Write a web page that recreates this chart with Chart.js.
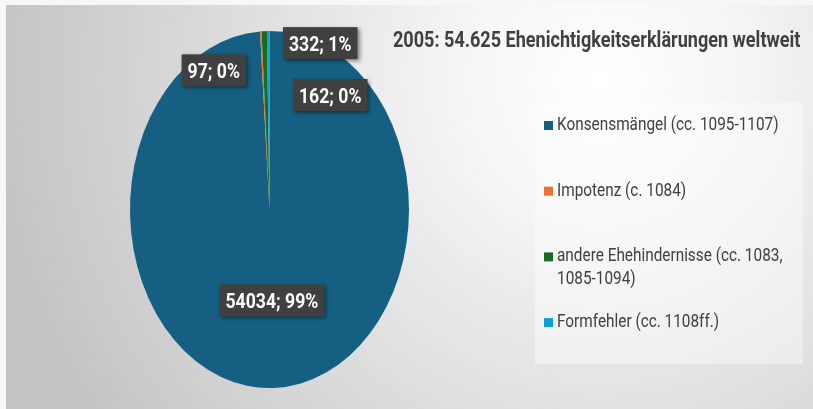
<!DOCTYPE html>
<html>
<head>
<meta charset="utf-8">
<script src="https://cdn.jsdelivr.net/npm/chart.js@4"></script>
<style>
  html, body { margin: 0; padding: 0; background: #ffffff; }
  #wrap { width: 813px; height: 409px; position: relative; }
</style>
</head>
<body>
<div id="wrap"><canvas id="c" width="813" height="409"></canvas></div>
<script>
// ---- data ----
const titleText = '2005: 54.625 Ehenichtigkeitserklärungen weltweit';
const categories = [
  'Konsensmängel (cc. 1095-1107)',
  'Impotenz (c. 1084)',
  'andere Ehehindernisse (cc. 1083, 1085-1094)',
  'Formfehler (cc. 1108ff.)'
];
const values = [54034, 97, 332, 162];
const colors = ['#156082', '#E97132', '#196B24', '#0F9ED5'];

// ---- style / layout ----
const FONT = 'Roboto, "Liberation Sans", sans-serif';
const NARROW = 0.84;                    // horizontal condensing of the text (narrow face look)
const ellipseK = 178.5 / 139.5;         // vertical stretch of the pie
const labelOffsets = [null, [-47, 39], [56, 12], [62, 64]]; // outside labels, relative to slice edge
const innerLabelR = 0.51;

const total = values.reduce((a, b) => a + b, 0);

function narrowWidth(ctx, text) { return ctx.measureText(text).width * NARROW; }
function narrowText(ctx, text, x, y, align) {
  const w = narrowWidth(ctx, text);
  let left = x;
  if (align === 'center') left = x - w / 2;
  ctx.save();
  ctx.translate(left, y);
  ctx.scale(NARROW, 1);
  ctx.textAlign = 'left';
  ctx.fillText(text, 0, 0);
  ctx.restore();
}

const bgPlugin = {
  id: 'bg',
  beforeDraw(chart) {
    const ctx = chart.ctx;
    ctx.save();
    ctx.fillStyle = '#f7f7f7';
    ctx.fillRect(0, 0, chart.width, chart.height);
    const g = ctx.createRadialGradient(600, 80, 0, 600, 80, 620);
    g.addColorStop(0, '#ffffff');
    g.addColorStop(0.2, '#f7f7f7');
    g.addColorStop(0.55, '#e0e0e0');
    g.addColorStop(1, '#c3c3c3');
    ctx.fillStyle = g;
    ctx.fillRect(6, 5, chart.width - 6, chart.height - 5);
    // legend box
    ctx.fillStyle = 'rgba(255,255,255,0.4)';
    ctx.fillRect(535, 103, 268, 261);
    ctx.restore();
  }
};

const ellipsePlugin = {
  id: 'ellipse',
  beforeDatasetsDraw(chart) {
    const a = chart.getDatasetMeta(0).data[0];
    const ctx = chart.ctx;
    ctx.save();
    ctx.translate(a.x, a.y);
    ctx.scale(1, ellipseK);
    ctx.translate(-a.x, -a.y);
  },
  afterDatasetsDraw(chart) {
    chart.ctx.restore();
  }
};

function drawBox(ctx, text, cx, cy) {
  ctx.font = 'bold 21px ' + FONT;
  const w = narrowWidth(ctx, text);
  const bw = w + 12, bh = 32;
  ctx.save();
  ctx.shadowColor = 'rgba(0,0,0,0.45)';
  ctx.shadowBlur = 4;
  ctx.shadowOffsetX = 2;
  ctx.shadowOffsetY = 2;
  ctx.fillStyle = '#404040';
  ctx.fillRect(cx - bw / 2, cy - bh / 2, bw, bh);
  ctx.restore();
  ctx.fillStyle = '#ffffff';
  ctx.textBaseline = 'alphabetic';
  narrowText(ctx, text, cx, cy + 7.5, 'center');
}

const labelPlugin = {
  id: 'labels',
  afterDraw(chart) {
    const ctx = chart.ctx;
    const arcs = chart.getDatasetMeta(0).data;
    ctx.save();
    arcs.forEach((a, i) => {
      const mid = (a.startAngle + a.endAngle) / 2;
      const pct = Math.round(values[i] / total * 100);
      const text = values[i] + '; ' + pct + '%';
      let x, y;
      if (!labelOffsets[i]) {
        x = a.x + Math.cos(mid) * a.outerRadius * innerLabelR;
        y = a.y + Math.sin(mid) * a.outerRadius * innerLabelR * ellipseK;
      } else {
        x = a.x + Math.cos(mid) * a.outerRadius + labelOffsets[i][0];
        y = a.y + Math.sin(mid) * a.outerRadius * ellipseK + labelOffsets[i][1];
      }
      drawBox(ctx, text, x, y);
    });

    // title
    ctx.fillStyle = '#404040';
    ctx.font = 'bold 21.5px ' + FONT;
    ctx.textBaseline = 'alphabetic';
    narrowText(ctx, titleText, 393, 47, 'left');

    // legend
    ctx.font = '18.3px ' + FONT;
    const maxW = 245;
    categories.forEach((lab, i) => {
      const base = 130 + i * 65.7;
      const words = lab.split(' ');
      const lines = [];
      let cur = '';
      words.forEach(wd => {
        const t = cur ? cur + ' ' + wd : wd;
        if (narrowWidth(ctx, t) > maxW && cur) { lines.push(cur); cur = wd; }
        else cur = t;
      });
      lines.push(cur);
      ctx.fillStyle = colors[i];
      ctx.fillRect(544, base - 9, 9, 9);
      ctx.fillStyle = '#404040';
      lines.forEach((ln, k) => {
        narrowText(ctx, ln, 557, base + k * 23, 'left');
      });
    });
    ctx.restore();
  }
};

new Chart(document.getElementById('c'), {
  type: 'pie',
  data: {
    labels: categories,
    datasets: [{
      data: values,
      backgroundColor: colors,
      borderWidth: 0
    }]
  },
  options: {
    responsive: false,
    animation: false,
    layout: { padding: { left: 130, right: 404, top: 70, bottom: 60 } },
    plugins: {
      legend: { display: false },
      title: { display: false },
      tooltip: { enabled: false }
    }
  },
  plugins: [bgPlugin, ellipsePlugin, labelPlugin]
});
</script>
</body>
</html>
